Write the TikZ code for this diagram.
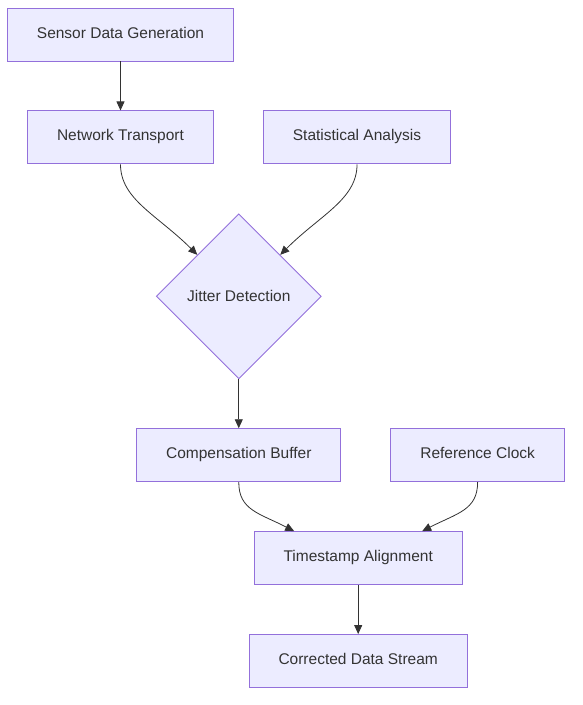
\documentclass[tikz,border=0pt]{standalone}
\usepackage{fontspec}
\setmainfont{Liberation Sans}
\usepackage{xcolor}
\usetikzlibrary{positioning,shapes.geometric,arrows.meta,calc}
\definecolor{nodefill}{HTML}{ECECFF}
\definecolor{nodeline}{HTML}{9370DB}
\definecolor{edgeline}{HTML}{333333}
\begin{document}
\begin{tikzpicture}[x=1pt, y=-1pt, node distance=49pt,
    box/.style={draw=nodeline, fill=nodefill, line width=0.9pt, align=center, minimum height=53pt, inner xsep=29.5pt, text height=10.5pt, text depth=3.5pt, text=edgeline, font=\fontsize{15.5}{18}\selectfont},
    decision/.style={diamond, draw=nodeline, fill=nodefill, line width=0.9pt, minimum width=165pt, minimum height=165pt, inner sep=0pt, text=edgeline, font=\fontsize{15.5}{18}\selectfont},
    flow/.style={draw=edgeline, line width=0.8pt, -{Triangle[length=9pt,width=8pt]}}]
    \useasboundingbox (0,0) rectangle (583,705);
    \node[box] (sensor) at (120.5,34.5) {Sensor Data Generation};
    \node[box] (transport) [below=of sensor] {Network Transport};
    \node[box] (analysis) [right=of transport] {Statistical Analysis};
    \node[decision] (jitter) [below=of $(transport.south)!0.5!(analysis.south)$] {Jitter Detection};
    \node[box] (buffer) [below=of jitter] {Compensation Buffer};
    \node[box] (clock) [right=of buffer] {Reference Clock};
    \node[box] (align) [below=of $(buffer.south)!0.5!(clock.south)$] {Timestamp Alignment};
    \node[box] (stream) [below=of align] {Corrected Data Stream};
    \draw[flow] (sensor) -- (transport);
    \draw[flow] (transport.south) .. controls +(0,35) and +(-40,-40) .. (jitter.north west);
    \draw[flow] (analysis.south) .. controls +(0,35) and +(40,-40) .. (jitter.north east);
    \draw[flow] (jitter) -- (buffer);
    \draw[flow] (buffer.south) .. controls +(0,28) and +(-35,-18) .. ([xshift=-64pt]align.north);
    \draw[flow] (clock.south) .. controls +(0,28) and +(35,-18) .. ([xshift=64pt]align.north);
    \draw[flow] (align) -- (stream);
\end{tikzpicture}
\end{document}
